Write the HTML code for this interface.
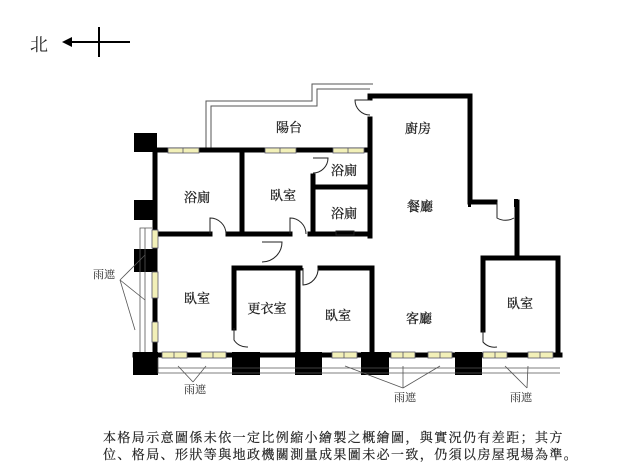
<!DOCTYPE html>
<html><head><meta charset="utf-8"><style>
html,body{margin:0;padding:0;background:#fff;width:640px;height:475px;overflow:hidden}
svg{display:block}
text{font-family:"Liberation Serif","Noto Serif CJK SC","Noto Sans CJK TC",serif;fill:#222}
</style></head><body>
<svg width="640" height="475" viewBox="0 0 640 475" xmlns="http://www.w3.org/2000/svg">
<text x="30" y="51" font-size="18">北</text>
<line x1="68" y1="42" x2="130" y2="42" stroke="#000" stroke-width="2"/>
<polygon points="62,42 72,37 72,47" fill="#000"/>
<line x1="99" y1="27" x2="99" y2="57" stroke="#000" stroke-width="2"/>

<g fill="none" stroke="#555" stroke-width="1">
<polyline points="206,150 206,101 312,101 312,84 373,84"/>
<polyline points="211,150 211,106 317,106 317,89 370,89"/>
</g>

<g fill="none" stroke="#000" stroke-width="5" stroke-linecap="square">
<line x1="155" y1="150" x2="370" y2="150"/>
<line x1="370" y1="119" x2="370" y2="236"/>
<line x1="370" y1="96" x2="370" y2="98"/>
<line x1="370" y1="96" x2="470" y2="96"/>
<line x1="470" y1="96" x2="470" y2="202"/>
<line x1="470" y1="202" x2="495" y2="202"/>
<line x1="517" y1="202" x2="517" y2="258"/>
<line x1="483" y1="258" x2="558" y2="258"/>
<line x1="483" y1="258" x2="483" y2="330"/>
<line x1="558" y1="258" x2="558" y2="355"/>
<line x1="155" y1="150" x2="155" y2="355"/>
<line x1="155" y1="234" x2="210" y2="234"/>
<line x1="228" y1="234" x2="290" y2="234"/>
<line x1="242" y1="150" x2="242" y2="234"/>
<line x1="310" y1="234" x2="370" y2="234"/>
<line x1="313" y1="176" x2="313" y2="234"/>
<line x1="313" y1="187" x2="370" y2="187"/>
<line x1="234" y1="268" x2="300" y2="268"/>
<line x1="234" y1="268" x2="234" y2="328"/>
<line x1="298" y1="268" x2="298" y2="355"/>
<line x1="320" y1="268" x2="372" y2="268"/>
<line x1="372" y1="268" x2="372" y2="358"/>
<line x1="135" y1="355" x2="560" y2="355"/>
</g>
<rect x="468" y="199" width="3" height="8" fill="#000"/>
<rect x="514" y="199" width="4" height="8" fill="#000"/>

<g fill="#000">
<rect x="134" y="133" width="23" height="19"/>
<rect x="134" y="200" width="23" height="20"/>
<rect x="134" y="249" width="23" height="23"/>
<rect x="133" y="352" width="25" height="23"/>
<rect x="232" y="352" width="28" height="23"/>
<rect x="295" y="352" width="27" height="23"/>
<rect x="361" y="352" width="28" height="23"/>
<rect x="455" y="352" width="27" height="23"/>
</g>

<g fill="#f2f0b8" stroke="#556" stroke-width="0.8">
<rect x="168" y="148" width="31" height="5"/><rect x="265" y="148" width="31" height="5"/><rect x="333" y="148" width="31" height="5"/>
<rect x="162" y="352" width="25" height="6"/><rect x="201" y="352" width="25" height="6"/>
<rect x="332" y="352" width="25" height="6"/><rect x="391" y="352" width="24" height="6"/><rect x="428" y="352" width="24" height="6"/>
<rect x="483" y="352" width="24" height="6"/><rect x="528" y="352" width="25" height="6"/>
<rect x="152" y="230" width="6" height="18"/><rect x="152" y="272" width="6" height="26"/><rect x="152" y="322" width="6" height="20"/>
</g>
<g stroke="#556" stroke-width="0.8">
<line x1="183" y1="148" x2="183" y2="153"/><line x1="280" y1="148" x2="280" y2="153"/><line x1="348" y1="148" x2="348" y2="153"/>
<line x1="174" y1="352" x2="174" y2="358"/><line x1="213" y1="352" x2="213" y2="358"/><line x1="344" y1="352" x2="344" y2="358"/>
<line x1="403" y1="352" x2="403" y2="358"/><line x1="440" y1="352" x2="440" y2="358"/><line x1="495" y1="352" x2="495" y2="358"/><line x1="540" y1="352" x2="540" y2="358"/>
</g>

<g fill="none" stroke="#555" stroke-width="0.8">
<polyline points="158,358 158,373 560,373"/>
<line x1="158" y1="368" x2="560" y2="368"/>
<polyline points="152,228 140,228 140,352"/>
<line x1="145" y1="228" x2="145" y2="352"/>
<line x1="120" y1="280" x2="145" y2="300"/><line x1="120" y1="280" x2="135" y2="330"/><line x1="120" y1="280" x2="145" y2="255"/>
<line x1="193" y1="382" x2="178" y2="366"/><line x1="193" y1="382" x2="206" y2="366"/>
<line x1="403" y1="388" x2="345" y2="366"/><line x1="403" y1="388" x2="403" y2="366"/><line x1="403" y1="388" x2="440" y2="366"/>
<line x1="527" y1="388" x2="505" y2="366"/><line x1="527" y1="388" x2="528" y2="366"/>
</g>

<g fill="none" stroke="#222" stroke-width="1">
<path d="M210,234 L210,218 A16,16 0 0 1 226,234"/>
<path d="M290,234 L290,218 A16,16 0 0 1 306,234"/>
<path d="M313,158 L328,158 A15,15 0 0 1 313,173"/>
<path d="M370,100 L355,100 A15,15 0 0 0 370,115"/>
<path d="M262,242 L282,242 A20,20 0 0 1 262,262"/>
<path d="M234,328 L234,340 A15,15 0 0 0 248,347"/>
<path d="M303,268 L303,285 A16,16 0 0 0 318,268"/>
<path d="M483,330 L483,342 A15,15 0 0 0 497,347"/>
<path d="M497,202 L497,218 A17,17 0 0 0 514,218"/>
<rect x="336" y="231" width="18" height="4"/>
</g>

<g font-size="13" text-anchor="middle" stroke="#222" stroke-width="0.3">
<text x="289" y="132">陽台</text>
<text x="418" y="133">廚房</text>
<text x="197" y="202">浴廁</text>
<text x="283" y="200">臥室</text>
<text x="344" y="175">浴廁</text>
<text x="344" y="218">浴廁</text>
<text x="420" y="211">餐廳</text>
<text x="197" y="303">臥室</text>
<text x="267" y="313">更衣室</text>
<text x="338" y="320">臥室</text>
<text x="419" y="323">客廳</text>
<text x="520" y="308">臥室</text>
</g>
<g font-size="11" text-anchor="middle">
<text x="104" y="278">雨遮</text>
<text x="195" y="393">雨遮</text>
<text x="405" y="401">雨遮</text>
<text x="521" y="401">雨遮</text>
</g>
<g font-size="13" letter-spacing="1.4" stroke="#222" stroke-width="0.2">
<text x="103" y="442">本格局示意圖係未依一定比例縮小繪製之概繪圖，與實況仍有差距；其方</text>
<text x="103" y="459">位、格局、形狀等與地政機關測量成果圖未必一致，仍須以房屋現場為準。</text>
</g>
</svg>
</body></html>
